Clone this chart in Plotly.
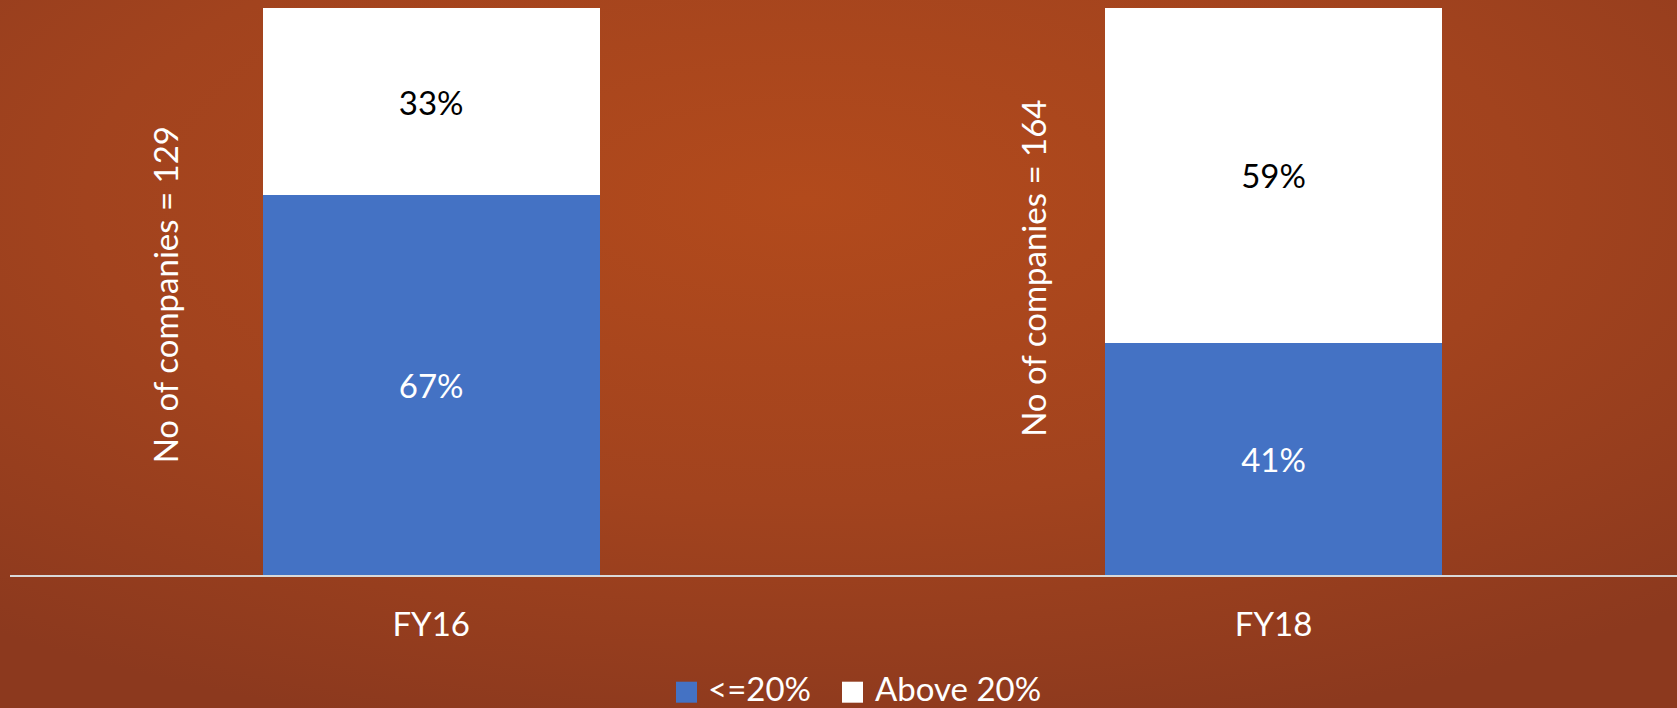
import base64
import plotly.graph_objects as go

# --- data -----------------------------------------------------------------
years = ["FY16", "FY18"]
share_le20 = [67, 41]        # % of companies with <=20%
share_above20 = [33, 59]     # % of companies above 20%
company_counts = [129, 164]  # number of companies in each year
series_names = ["<=20%", "Above 20%"]

# --- page geometry (pixels) -------------------------------------------------
W, H = 1677, 708
M_L, M_R, M_T, M_B = 10, 0, 8, 133
PLOT_W = W - M_L - M_R
PLOT_H = H - M_T - M_B

FONT = "Lato"
FS = 33
BLUE = "#4472C4"


def px_x(px):
    return (px - M_L) / PLOT_W


def px_y(py):
    return (H - M_B - py) / PLOT_H


# warm radial backdrop
svg = (
    f'<svg xmlns="http://www.w3.org/2000/svg" width="{W}" height="{H}" '
    f'viewBox="0 0 {W} {H}" preserveAspectRatio="none">'
    '<defs><radialGradient id="g" cx="0.48" cy="0.28" r="0.78">'
    '<stop offset="0" stop-color="#B24A1C"/>'
    '<stop offset="0.55" stop-color="#A2431E"/>'
    '<stop offset="1" stop-color="#8C391E"/>'
    '</radialGradient></defs>'
    f'<rect x="0" y="0" width="{W}" height="{H}" fill="url(#g)"/></svg>'
)
bg_uri = "data:image/svg+xml;base64," + base64.b64encode(svg.encode()).decode()

fig = go.Figure()

fig.add_trace(go.Bar(
    x=years, y=share_le20, name=series_names[0],
    marker=dict(color=BLUE, line=dict(width=0)),
    width=0.4,
    text=[f"{v}%" for v in share_le20],
    textposition="inside", insidetextanchor="middle", textangle=0,
    constraintext="none",
    textfont=dict(family=FONT, size=FS, color="white"),
    showlegend=False, hoverinfo="skip",
))
fig.add_trace(go.Bar(
    x=years, y=share_above20, name=series_names[1],
    marker=dict(color="white", line=dict(width=0)),
    width=0.4,
    text=[f"{v}%" for v in share_above20],
    textposition="inside", insidetextanchor="middle", textangle=0,
    constraintext="none",
    textfont=dict(family=FONT, size=FS, color="black"),
    showlegend=False, hoverinfo="skip",
))

# vertical "No of companies" notes beside each bar
note_x = [-0.316, 0.7145]
note_y = [49.5, 54.0]
for xi, yi, n in zip(note_x, note_y, company_counts):
    fig.add_annotation(
        x=xi, y=yi, xref="x", yref="y",
        text=f"No of companies = {n}", textangle=-90,
        showarrow=False, xanchor="center", yanchor="middle",
        font=dict(family=FONT, size=FS, color="white"),
    )

# legend swatches and labels
legend_items = [
    (676, 706, BLUE, series_names[0]),
    (842, 873, "white", series_names[1]),
]
for sq_x, tx, col, label in legend_items:
    fig.add_shape(
        type="rect", xref="paper", yref="paper",
        x0=px_x(sq_x), x1=px_x(sq_x + 21),
        y0=px_y(702.7), y1=px_y(681.7),
        fillcolor=col, line=dict(width=0), layer="above",
    )
    fig.add_annotation(
        x=px_x(tx), y=px_y(687.5), xref="paper", yref="paper",
        text=label, showarrow=False, xanchor="left", yanchor="middle",
        font=dict(family=FONT, size=FS, color="white"),
    )

fig.add_layout_image(
    source=bg_uri, xref="paper", yref="paper",
    x=px_x(0), y=px_y(0), sizex=W / PLOT_W, sizey=H / PLOT_H,
    xanchor="left", yanchor="top", sizing="stretch", layer="below",
)

fig.update_layout(
    width=W, height=H,
    margin=dict(l=M_L, r=M_R, t=M_T, b=M_B, pad=0),
    barmode="stack",
    paper_bgcolor="#9E421E",
    plot_bgcolor="rgba(0,0,0,0)",
    font=dict(family=FONT, size=FS, color="white"),
    uniformtext=dict(minsize=FS, mode="show"),
    xaxis=dict(
        range=[-0.5, 1.479], showgrid=False, zeroline=False,
        showline=True, linecolor="#D9D9D9", linewidth=2,
        ticks="", tickfont=dict(family=FONT, size=FS, color="white"),
        ticklabelstandoff=19, fixedrange=True,
    ),
    yaxis=dict(
        range=[0, 100], visible=False, fixedrange=True,
    ),
)

fig.write_html("out.html", config={"displayModeBar": False})
